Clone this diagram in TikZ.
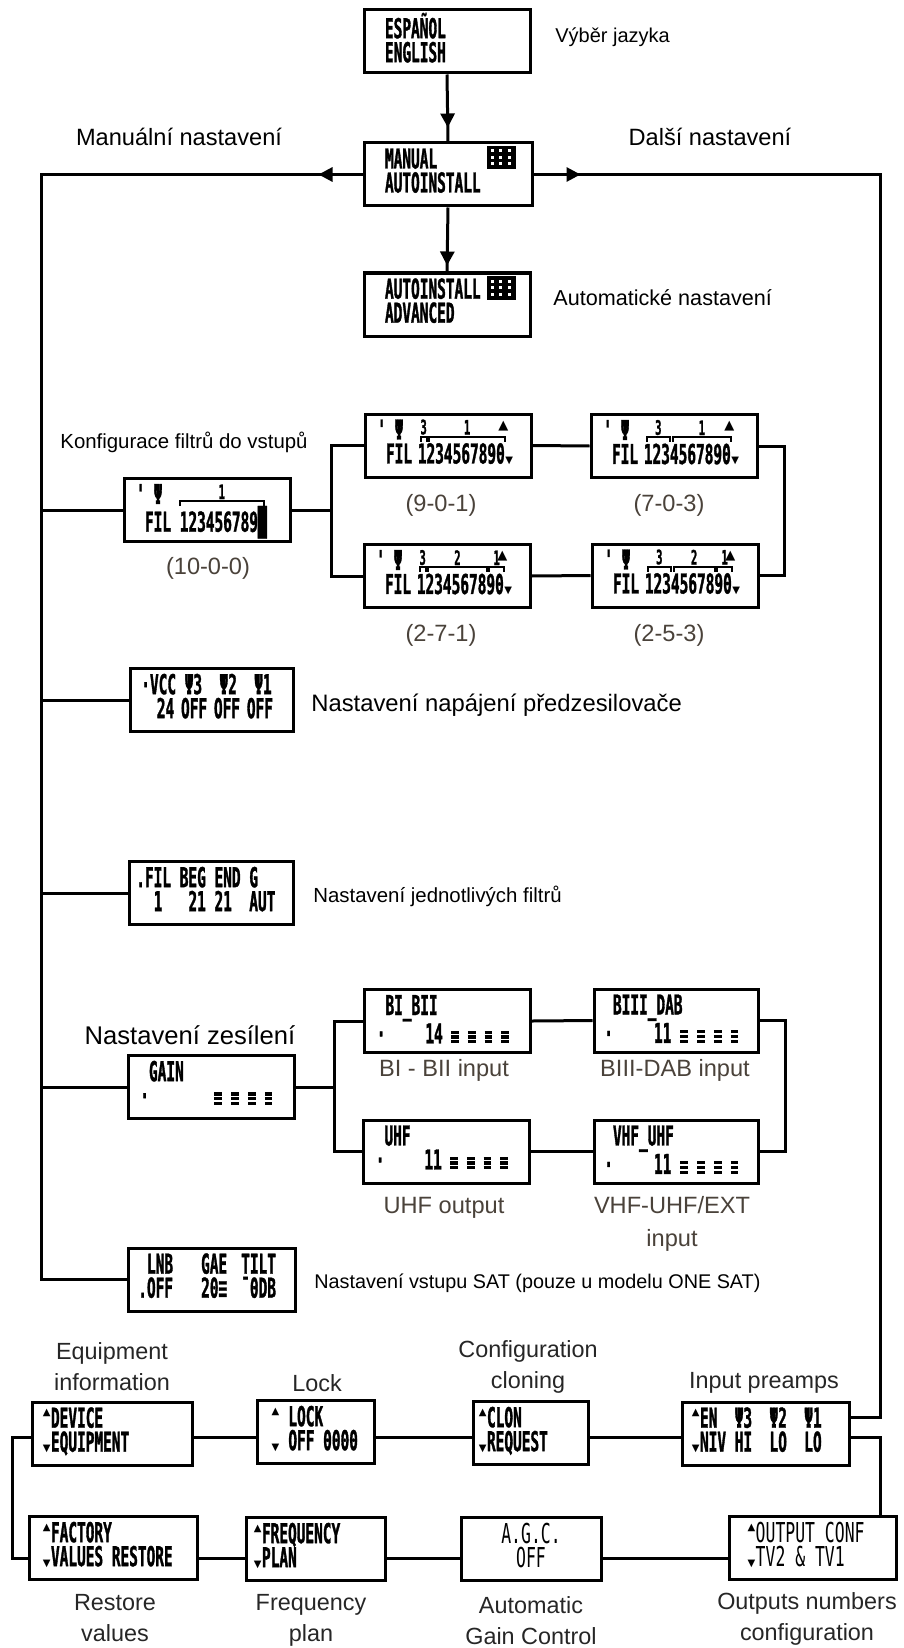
\documentclass[tikz,border=0pt]{standalone}
\usepackage{fontspec}
\setmainfont{Liberation Sans}
\newfontfamily\lcd{DejaVu Sans Mono}[FakeStretch=0.527, BoldFeatures={FakeBold=1.2}]
\newfontfamily\lcdwide{DejaVu Sans Mono}[FakeStretch=0.6]
\newfontfamily\dejavu{DejaVu Sans}
\usetikzlibrary{arrows.meta, calc, decorations.markings}
\definecolor{lblgray}{RGB}{74,66,58}
\setlength\parindent{0pt}
\hfuzz=40pt

% LCD look
\newcommand\lcdfont{\lcd\bfseries\fontsize{13.7}{12}\selectfont}
\newcommand\lcdthin{\lcdwide\fontsize{13.7}{12}\selectfont}
\newcommand\lcdhang[1]{\leavevmode\llap{#1}}
\newcommand\lcdup{\makebox[4.35pt][c]{\raisebox{6pt}{\dejavu\fontsize{5}{5}\selectfont ▲}}}
\newcommand\lcddn{\makebox[4.35pt][c]{\dejavu\fontsize{5}{5}\selectfont ▼}}
\newcommand\lcdtri{\makebox[4.35pt][c]{\raisebox{5pt}{\dejavu\fontsize{6.5}{6.5}\selectfont ▲}}}
\newcommand\lcdeq{\makebox[4.35pt][c]{\rlap{\rule{3.8pt}{1.6pt}}\rlap{\raisebox{2.4pt}{\rule{3.8pt}{1.6pt}}}\raisebox{4.8pt}{\rule{3.8pt}{1.6pt}}}}

\tikzset{
  wire/.style={line width=1.5pt},
  arr/.style={postaction={decorate}, decoration={markings,
      mark=at position #1 with {\arrow{Triangle[length=7pt,width=7pt]}}}},
  lcd/.style 2 args={draw, line width=1.5pt, minimum height=31.5pt, inner ysep=0pt,
      text depth=16pt, inner xsep=#2, text width=#1, align=flush left, font=\lcdfont},
  grplbl/.style={inner sep=0pt, font=\lcd\bfseries\fontsize{10}{10}\selectfont},
  note/.style={anchor=west, inner sep=0pt},
  czlbl/.style={inner sep=0pt, align=center},
  sublbl/.style={inner sep=0pt, align=center, text=lblgray, font=\fontsize{11.8}{16.5}\selectfont},
  menulbl/.style={inner sep=0pt, align=center, text=black!85, font=\fontsize{11.7}{15.5}\selectfont}
}

% block icon in the corner of a menu box
\newcommand\menuicon[1]{%
  \fill ($(#1.north west)+(124,4.5)$) rectangle ++(29,23.5);
  \foreach \i in {0,1,2} {\foreach \j in {0,1,2} {
    \fill[white] ($(#1.north west)+(128+\i*8.5,8+\j*6.5)$) rectangle ++(3,3);}}
}
% bracket over filter digits #2..#3 of box #1, labelled #4
\newcommand\filgrp[4]{%
  \pgfmathsetmacro\grpl{21+(3+#2)*8.7+1.2}%
  \pgfmathsetmacro\grpr{21+(4+#3)*8.7-1.2}%
  \draw[line width=1pt] ($(#1.north west)+(\grpl,29)$) -- ++(0,-5) -| ($(#1.north west)+(\grpr,29)$);
  \node[grplbl, anchor=south] (#1-#4) at ($(#1.north west)+({(\grpl+\grpr)/2},22.5)$) {#4};
}

\begin{document}
\begin{tikzpicture}[x=0.5pt, y=-0.5pt]
  \useasboundingbox (0,0) rectangle (904,1648);

  % language and install menus
  \node[lcd={62pt}{10.5pt}] (lang) at (447,41.5) {ESPAÑOL\\ENGLISH};
  \node[lcd={63pt}{10.5pt}] (manual) at (448,174.5) {MANUAL\\AUTOINSTALL};
  \node[lcd={62pt}{10.5pt}] (auto) at (447,304.5) {AUTOINSTALL\\ADVANCED};
  \menuicon{manual}
  \menuicon{auto}

  \node[note, font=\fontsize{10}{12}\selectfont] (langnote) at (555,37) {Výběr jazyka};
  \node[czlbl, font=\fontsize{11.8}{14}\selectfont] (mannote) at (179,137) {Manuální nastavení};
  \node[czlbl, font=\fontsize{11.8}{14}\selectfont] (morenote) at (710,137) {Další nastavení};
  \node[note, font=\fontsize{10.8}{13}\selectfont] (autonote) at (553,298) {Automatické nastavení};

  % filter configuration
  \node[lcd={62pt}{10.5pt}] (f1000) at (207,510) {\lcdhang{'}~Ψ\\FIL~123456789█};
  \node[lcd={62pt}{10.5pt}] (f901) at (448,445.5) {\lcdhang{'}~Ψ~~~~~~~~~~~\lcdtri\\FIL~1234567890\lcddn};
  \node[lcd={62pt}{10.5pt}] (f703) at (674,446) {\lcdhang{'}~Ψ~~~~~~~~~~~\lcdtri\\FIL~1234567890\lcddn};
  \node[lcd={62pt}{10.5pt}] (f271) at (447,576) {\lcdhang{'}~Ψ~~~~~~~~~~~\lcdtri\\FIL~1234567890\lcddn};
  \node[lcd={62pt}{10.5pt}] (f253) at (675,575.5) {\lcdhang{'}~Ψ~~~~~~~~~~~\lcdtri\\FIL~1234567890\lcddn};
  \filgrp{f1000}{1}{10}{1}
  \filgrp{f901}{1}{1}{3}
  \filgrp{f901}{2}{10}{1}
  \filgrp{f703}{1}{3}{3}
  \filgrp{f703}{4}{10}{1}
  \filgrp{f271}{1}{1}{3}
  \filgrp{f271}{2}{8}{2}
  \filgrp{f271}{9}{10}{1}
  \filgrp{f253}{1}{3}{3}
  \filgrp{f253}{4}{8}{2}
  \filgrp{f253}{9}{10}{1}

  \node[note, font=\fontsize{10.2}{12}\selectfont] (filnote) at (60,442) {Konfigurace filtrů do vstupů};
  \node[sublbl] (c1000) at (208,568) {(10-0-0)};
  \node[sublbl] (c901) at (441,505) {(9-0-1)};
  \node[sublbl] (c703) at (669,505) {(7-0-3)};
  \node[sublbl] (c271) at (441,635) {(2-7-1)};
  \node[sublbl] (c253) at (669,635) {(2-5-3)};

  % preamp supply and single filters
  \node[lcd={61.5pt}{10pt}] (vcc) at (211.5,700) {\lcdhang{·}VCC~Ψ3~~Ψ2~~Ψ1\\\mbox{}~24~OFF~OFF~OFF};
  \node[note, font=\fontsize{11.9}{14}\selectfont] (vccnote) at (311,705) {Nastavení napájení předzesilovače};
  \node[lcd={66pt}{8pt}] (filbeg) at (211,893) {\lcdhang{.}FIL~BEG~END~G\\\mbox{}~1~~~21~21~~AUT};
  \node[note, font=\fontsize{10.2}{12}\selectfont] (filbegnote) at (313,896) {Nastavení jednotlivých filtrů};

  % gain
  \node[lcd={62pt}{10.5pt}] (gain) at (211,1087) {GAIN\\\lcdhang{·}~~~~~~~~\lcdeq~\lcdeq~\lcdeq~\lcdeq};
  \node[lcd={62pt}{10.5pt}] (bibii) at (447.5,1021) {BI\_BII\\\lcdhang{·}~~~~~14~\lcdeq~\lcdeq~\lcdeq~\lcdeq};
  \node[lcd={63pt}{9.5pt}] (biiidab) at (676,1020.5) {BIII\_DAB\\\lcdhang{·}~~~~~11~\lcdeq~\lcdeq~\lcdeq~\lcdeq};
  \node[lcd={62pt}{10.5pt}] (uhf) at (446.5,1151.5) {UHF\\\lcdhang{·}~~~~~11~\lcdeq~\lcdeq~\lcdeq~\lcdeq};
  \node[lcd={63pt}{9.5pt}] (vhfuhf) at (676,1151.5) {VHF\_UHF\\\lcdhang{·}~~~~~11~\lcdeq~\lcdeq~\lcdeq~\lcdeq};

  \node[czlbl, font=\fontsize{12.8}{15}\selectfont] (gainnote) at (190,1035) {Nastavení zesílení};
  \node[sublbl] (cbibii) at (444,1070) {BI - BII input};
  \node[sublbl] (cbiii) at (675,1070) {BIII-DAB input};
  \node[sublbl] (cuhf) at (444,1208) {UHF output};
  \node[sublbl] (cvhf) at (672,1224) {VHF-UHF/EXT\\input};

  % SAT input
  \node[lcd={64.5pt}{9.5pt}] (lnb) at (211.5,1279.5) {LNB~~~~GAE~~TILT\\\lcdhang{.}OFF~~~~20≡~~¯0DB};
  \node[note, font=\fontsize{9.9}{12}\selectfont] (lnbnote) at (314,1283) {Nastavení vstupu SAT (pouze u modelu ONE SAT)};

  % further settings, two rows
  \node[lcd={61pt}{9.5pt}] (device) at (112,1433.5) {\lcdhang{\lcdup}DEVICE\\\lcdhang{\lcddn}EQUIPMENT};
  \node[lcd={44.5pt}{7pt}] (lock) at (315.5,1432) {\lcdup~LOCK\\\lcddn~OFF~0000};
  \node[lcd={43.5pt}{7pt}] (clon) at (530.5,1433) {\lcdhang{\lcdup}CLON\\\lcdhang{\lcddn}REQUEST};
  \node[lcd={65.5pt}{9pt}] (preamp) at (765.5,1433.5) {\lcdhang{\lcdup}EN~~Ψ3~~Ψ2~~Ψ1\\\lcdhang{\lcddn}NIV~HI~~LO~~LO};
  \node[lcd={62pt}{11pt}] (factory) at (113,1548) {\lcdhang{\lcdup}FACTORY\\\lcdhang{\lcddn}VALUES~RESTORE};
  \node[lcd={53.5pt}{8pt}] (freq) at (315.5,1549) {\lcdhang{\lcdup}FREQUENCY\\\lcdhang{\lcddn}PLAN};
  \node[lcd={60pt}{5pt}, align=center, font=\lcdthin] (agc) at (531,1549) {A.G.C.\\OFF};
  \node[lcd={65.5pt}{9pt}, font=\lcdthin] (outconf) at (812.5,1548) {\lcdup OUTPUT~CONF\\\lcddn TV2~\&~TV1};

  \node[menulbl] (devnote) at (112,1367) {Equipment\\information};
  \node[menulbl] (locknote) at (317,1383) {Lock};
  \node[menulbl] (clonnote) at (528,1367) {Configuration\\cloning};
  \node[menulbl] (prenote) at (764,1383) {Input preamps};
  \node[menulbl] (facnote) at (115,1618) {Restore\\values};
  \node[menulbl] (freqnote) at (311,1620) {Frequency\\plan};
  \node[menulbl] (agcnote) at (531,1621) {Automatic\\Gain Control};
  \node[menulbl] (outnote) at (807,1619) {Outputs numbers\\configuration};

  % connectors
  \coordinate (lspine) at (41,1279.5);
  \coordinate (rspine) at (880,1417);
  \coordinate (bspine) at (12,0);
  \coordinate (row1) at (0,1437);
  \coordinate (row2) at (0,1558);
  \coordinate (fsplit) at (331,0);
  \coordinate (fjoin) at (784,0);
  \coordinate (gsplit) at (334,0);
  \coordinate (gjoin) at (785,0);

  \draw[wire, arr=26.5pt] (lang.south) -- (manual.north);
  \draw[wire, arr=29pt] (manual.south) -- (auto.north);
  \draw[wire, arr=22pt] (manual.west) -| (lspine) -- (lnb.west);
  \foreach \b in {f1000, vcc, filbeg, gain}
    \draw[wire] (\b.west) -- (\b.west -| lspine);
  \draw[wire, arr=23.5pt] (manual.east) -| (rspine) -- (rspine -| preamp.east);

  \draw[wire] (f1000.east) -- (f1000.east -| fsplit);
  \draw[wire] (f901.west) -| (fsplit |- f271.west) -- (f271.west);
  \draw[wire] (f901.east) -- (f703.west);
  \draw[wire] (f271.east) -- (f253.west);
  \draw[wire] (f703.east) -| (fjoin |- f253.east) -- (f253.east);

  \draw[wire] (gain.east) -- (gain.east -| gsplit);
  \draw[wire] (bibii.west) -| (gsplit |- uhf.west) -- (uhf.west);
  \draw[wire] (bibii.east) -- (biiidab.west);
  \draw[wire] (uhf.east) -- (vhfuhf.west);
  \draw[wire] (biiidab.east) -| (gjoin |- vhfuhf.east) -- (vhfuhf.east);

  \draw[wire] (device.east |- row1) -- (lock.west |- row1);
  \draw[wire] (lock.east |- row1) -- (clon.west |- row1);
  \draw[wire] (clon.east |- row1) -- (preamp.west |- row1);
  \draw[wire] (preamp.east |- row1) -| (rspine |- outconf.north);
  \draw[wire] (device.west |- row1) -| (bspine |- row2) -- (factory.west |- row2);
  \draw[wire] (factory.east |- row2) -- (freq.west |- row2);
  \draw[wire] (freq.east |- row2) -- (agc.west |- row2);
  \draw[wire] (agc.east |- row2) -- (outconf.west |- row2);
\end{tikzpicture}
\end{document}
